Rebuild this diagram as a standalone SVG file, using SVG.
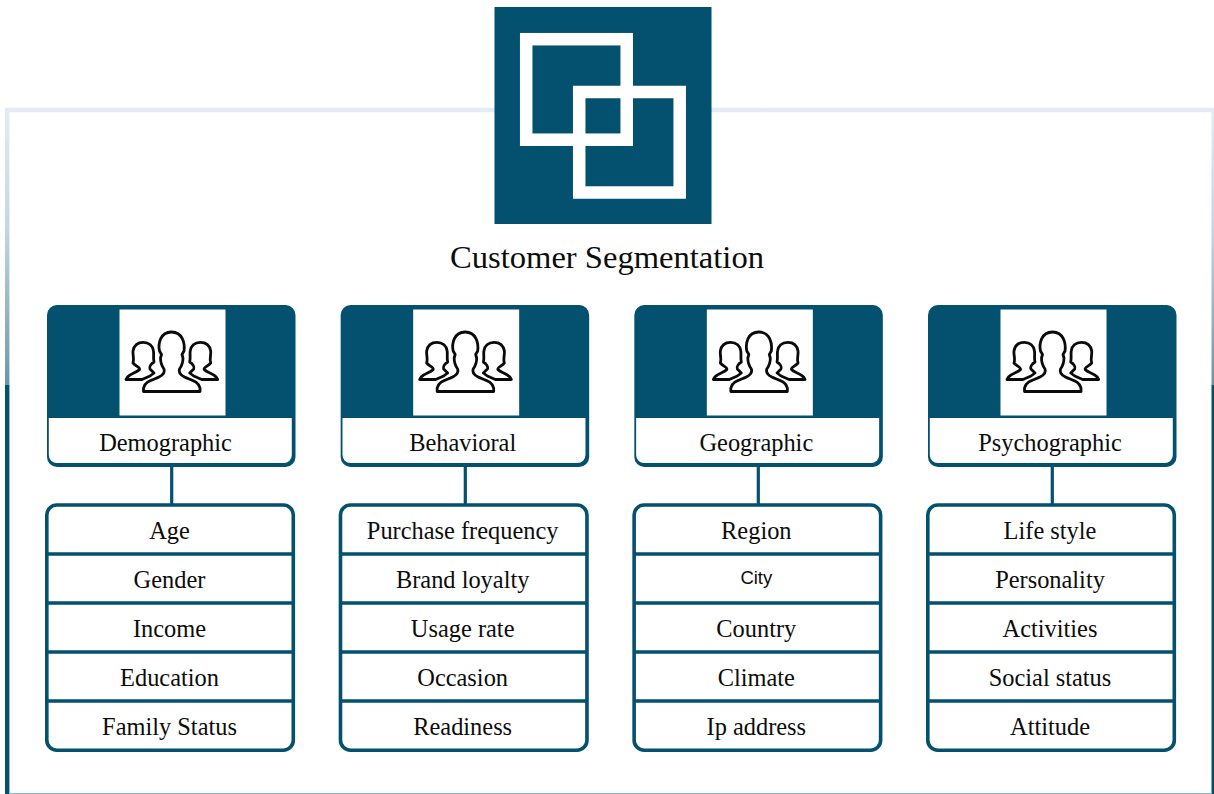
<svg xmlns="http://www.w3.org/2000/svg" xmlns:xlink="http://www.w3.org/1999/xlink" width="1214" height="794" viewBox="0 0 1214 794">
<style>
text{font-family:"Liberation Serif","Times New Roman",serif;font-size:24.400px;fill:#0c0c0c;text-anchor:middle}
.sans{font-family:"Liberation Sans",Arial,sans-serif;font-size:18.500px}
.title{font-size:32.600px}
.head{fill:#03506f}
.win{fill:#fff}
.lab{fill:#fff}
.list{fill:#fff;stroke:#03506f;stroke-width:3.600}
.line{stroke:#03506f;stroke-width:3.300;fill:none}
.conn{stroke:#03506f;stroke-width:3.200;fill:none}
.ico{fill:#fff;stroke:#0a0a0a;stroke-width:2.800;stroke-linejoin:round}
.sq{fill:none;stroke:#fff;stroke-width:12.500}
</style>
<defs>
<linearGradient id="g" gradientUnits="userSpaceOnUse" x1="0" y1="108" x2="0" y2="385">
<stop offset="0" stop-color="#e3ecf3"/><stop offset=".45" stop-color="#c2d5df"/><stop offset="1" stop-color="#6a97a9"/>
</linearGradient>
<path id="side" class="ico" d="M126 379.500L127.500 377C131 373 137 372.500 139.500 369.500C140.500 367.500 136 366.500 133 363C134.500 359 132.500 355 133 351C134 345 138 342.300 143.300 342.300C149 342.300 153 346 153.500 351C154 355 153 358 154 362C151 364 149 367 150 369L154 373L150 376L142 379.500Z"/>
<g id="people">
<use xlink:href="#side" href="#side"/>
<use xlink:href="#side" href="#side" transform="translate(343.700 0) scale(-1 1)"/>
<path class="ico" d="M143.500 391.500V388C145 381 153 380 159 377C163 375 165 372 164 369C161 365 160.500 361 160.500 358L161.500 354.500L159.500 351C158 344 160 332 171.500 332C183 332 185 344 184 351L182 354.500L183 358C183 361 182.500 365 179.500 369C178.500 372 180.500 375 184.500 377C190.500 380 198.500 381 200 388V391.500Z"/>
</g>
<path id="cardbase" class="head" d="M47 455V315a10 10 0 0 1 10-10H285.500a10 10 0 0 1 10 10V457a10 10 0 0 1-10 10H57a10 10 0 0 1-10-10z"/>
<path id="cardlabel" class="lab" d="M48.800 418H291.800V455a8 8 0 0 1-8 8H56.800a8 8 0 0 1-8-8z"/>
</defs>
<g id="frame">
<path d="M7.200 385V110H1214" fill="none" stroke="url(#g)" stroke-width="4.400"/>
<path d="M1213 110V385" fill="none" stroke="url(#g)" stroke-width="3"/>
<path d="M7.200 385V794" fill="none" stroke="#03506f" stroke-width="4.400"/>
<path d="M1213 385V794" fill="none" stroke="#03506f" stroke-width="3"/>
<rect x="9" y="793" width="1203" height="1" fill="#7fbccd"/>
</g>
<g id="logo">
<rect x="494.500" y="7" width="217" height="217" class="head"/>
<rect x="526.200" y="39.200" width="100.500" height="100.500" class="sq"/>
<rect x="579.200" y="92" width="100.500" height="100.500" class="sq"/>
</g>
<text id="title" class="title" x="607" y="268">Customer Segmentation</text>
<g id="connectors">
<path class="conn" d="M171.700 466V505M465.300 466V505M758.300 466V505M1052.300 466V505"/>
</g>
<g id="card-demographic">
<use xlink:href="#cardbase" href="#cardbase"/>
<rect class="win" x="119.500" y="309.500" width="106" height="106"/>
<use xlink:href="#people" href="#people"/>
<use xlink:href="#cardlabel" href="#cardlabel"/>
<text x="165.500" y="451">Demographic</text>
</g>
<g id="list-demographic">
<rect class="list" x="46.800" y="505" width="246.500" height="245.200" rx="10"/>
<path class="line" d="M46.800 554H293.300M46.800 603H293.300M46.800 652H293.300M46.800 701H293.300"/>
<text x="169.500" y="539">Age</text><text x="169.500" y="588">Gender</text><text x="169.500" y="637">Income</text><text x="169.500" y="686">Education</text><text x="169.500" y="735">Family Status</text>
</g>
<g id="card-behavioral" transform="translate(293.670 0)">
<use xlink:href="#cardbase" href="#cardbase"/>
<rect class="win" x="119.500" y="309.500" width="106" height="106"/>
<use xlink:href="#people" href="#people"/>
<use xlink:href="#cardlabel" href="#cardlabel"/>
<text x="169" y="451">Behavioral</text>
</g>
<g id="list-behavioral" transform="translate(293.670 0)">
<rect class="list" x="46.800" y="505" width="246.500" height="245.200" rx="10"/>
<path class="line" d="M46.800 554H293.300M46.800 603H293.300M46.800 652H293.300M46.800 701H293.300"/>
<text x="169" y="539">Purchase frequency</text><text x="169" y="588">Brand loyalty</text><text x="169" y="637">Usage rate</text><text x="169" y="686">Occasion</text><text x="169" y="735">Readiness</text>
</g>
<g id="card-geographic" transform="translate(587.330 0)">
<use xlink:href="#cardbase" href="#cardbase"/>
<rect class="win" x="119.500" y="309.500" width="106" height="106"/>
<use xlink:href="#people" href="#people"/>
<use xlink:href="#cardlabel" href="#cardlabel"/>
<text x="169" y="451">Geographic</text>
</g>
<g id="list-geographic" transform="translate(587.330 0)">
<rect class="list" x="46.800" y="505" width="246.500" height="245.200" rx="10"/>
<path class="line" d="M46.800 554H293.300M46.800 603H293.300M46.800 652H293.300M46.800 701H293.300"/>
<text x="169" y="539">Region</text><text class="sans" x="169" y="584">City</text><text x="169" y="637">Country</text><text x="169" y="686">Climate</text><text x="169" y="735">Ip address</text>
</g>
<g id="card-psychographic" transform="translate(881 0)">
<use xlink:href="#cardbase" href="#cardbase"/>
<rect class="win" x="119.500" y="309.500" width="106" height="106"/>
<use xlink:href="#people" href="#people"/>
<use xlink:href="#cardlabel" href="#cardlabel"/>
<text x="169" y="451">Psychographic</text>
</g>
<g id="list-psychographic" transform="translate(881 0)">
<rect class="list" x="46.800" y="505" width="246.500" height="245.200" rx="10"/>
<path class="line" d="M46.800 554H293.300M46.800 603H293.300M46.800 652H293.300M46.800 701H293.300"/>
<text x="169" y="539">Life style</text><text x="169" y="588">Personality</text><text x="169" y="637">Activities</text><text x="169" y="686">Social status</text><text x="169" y="735">Attitude</text>
</g>
</svg>
